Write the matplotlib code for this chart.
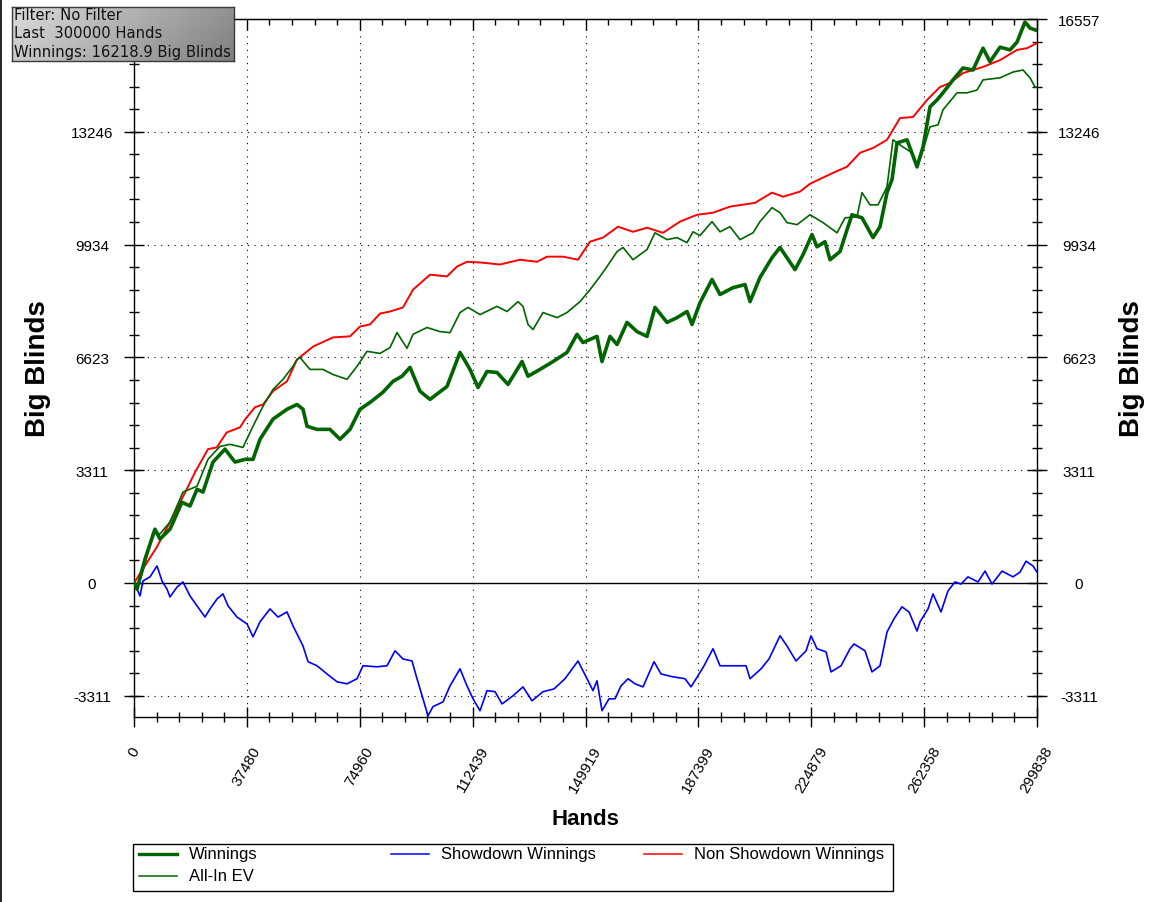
import numpy as np
import matplotlib
matplotlib.use('Agg')
import matplotlib.pyplot as plt
from matplotlib.lines import Line2D
from matplotlib.patches import Rectangle

# --- values (hands, big blinds) ---
win_hands = [0, 1000, 3650, 6970, 8630, 11950, 15940, 18600, 20920, 22910, 26230, 30220, 33540,
             36860, 39510, 41840, 46150, 50800, 54120, 56120, 57450, 60770, 65080, 68400, 71720,
             75050, 78360, 82680, 86000, 88990, 91650, 93310, 94970, 98290, 103930, 108250,
             111570, 114230, 117210, 120540, 124190, 128840, 130830, 134810, 139130, 143780,
             147100, 149090, 151410, 153740, 155400, 158060, 160390, 163700, 167030, 170350,
             173000, 176990, 180310, 183630, 185280, 187950, 191930, 194580, 198900, 202890,
             204550, 207870, 211850, 214510, 219490, 222150, 225130, 226790, 229450, 231110,
             234430, 236750, 238410, 241730, 245390, 247710, 250030, 251690, 253360, 256680,
             260000, 262000, 264310, 266640, 268620, 271950, 275270, 278590, 281910, 284230,
             287560, 290880, 293210, 295850, 297520, 299838]
win_bb = [0, -180, 700, 1580, 1290, 1580, 2370, 2260, 2750, 2670, 3550, 3930, 3550,
          3630, 3630, 4220, 4810, 5100, 5240, 5100, 4600, 4510, 4510, 4220, 4510,
          5100, 5300, 5600, 5920, 6070, 6330, 5980, 5630, 5390, 5770, 6770,
          6270, 5740, 6210, 6180, 5830, 6500, 6070, 6270, 6500, 6770,
          7300, 7060, 7150, 7240, 6500, 7240, 7000, 7650, 7380, 7240,
          8090, 7650, 7790, 7970, 7590, 8230, 8910, 8470, 8670, 8760,
          8260, 8970, 9550, 9850, 9200, 9640, 10230, 9870, 10020, 9490,
          9730, 10370, 10810, 10720, 10140, 10460, 11460, 11840, 12920, 13010,
          12220, 12800, 13980, 14180, 14390, 14770, 15120, 15060, 15700, 15300,
          15730, 15650, 15880, 16470, 16290, 16219]

ev_hands = [0, 1000, 3650, 6310, 8630, 11950, 16270, 20920, 24570, 28560, 31880, 36190,
            39510, 42840, 46150, 49480, 52800, 54120, 55120, 58440, 62760, 66080, 70730,
            74050, 77370, 81690, 85000, 87330, 90650, 92640, 97290, 101610, 104930, 108250,
            110910, 114890, 120540, 123860, 127510, 129170, 130830, 132490, 135810, 140460,
            143780, 148090, 151410, 154740, 157060, 160390, 162380, 165700, 170350, 173000,
            176990, 180310, 183630, 185620, 187950, 191930, 194580, 197900, 201220, 205540,
            207870, 211850, 214510, 216830, 220160, 224470, 228790, 233440, 236090, 240070,
            241730, 244390, 247050, 250030, 252030, 255350, 258330, 260000, 262000, 264310,
            266970, 268620, 273290, 276600, 279920, 281910, 287560, 291870, 295200, 297520,
            299190, 299838]
ev_bb = [0, -180, 560, 1490, 1440, 1790, 2670, 2840, 3630, 4010, 4070, 3980,
         4600, 5190, 5680, 5980, 6360, 6560, 6620, 6270, 6270, 6120, 5980,
         6360, 6800, 6740, 6910, 7350, 6890, 7300, 7500, 7380, 7350, 7940,
         8090, 7880, 8120, 7970, 8260, 8120, 7590, 7440, 7940, 7790,
         7940, 8260, 8610, 9000, 9290, 9730, 9850, 9490, 9790, 10280,
         10080, 10140, 9990, 10310, 10200, 10610, 10310, 10460, 10080, 10280,
         10610, 11020, 10870, 10580, 10520, 10810, 10580, 10280, 10720, 10750,
         11460, 11100, 11100, 11630, 13010, 12800, 12630, 12190, 12720, 13390,
         13450, 13890, 14390, 14390, 14470, 14770, 14830, 15000, 15060, 14830,
         14560, 14560]

sd_hands = [0, 1000, 1990, 2990, 5310, 7640, 9300, 10960, 11950, 14280, 16270, 18600,
            20920, 23580, 25240, 27560, 29550, 31210, 34200, 37520, 39510, 41840, 45160,
            47820, 50800, 52800, 56120, 57780, 60770, 64090, 67410, 70730, 74050, 76040,
            80690, 84010, 86670, 89320, 92310, 93970, 95960, 97620, 99280, 102600, 104930,
            108250, 110570, 112570, 114890, 117210, 119870, 122200, 125850, 129170, 132160,
            135810, 139460, 143120, 147430, 150420, 152410, 153740, 155400, 157720, 159720,
            161710, 164040, 166360, 169020, 172670, 174990, 178640, 182960, 184960, 187270,
            189280, 192260, 194580, 199560, 203220, 204550, 208200, 210850, 214510, 216830,
            219820, 223170, 224800, 226790, 229780, 231450, 234770, 237750, 239080, 242730,
            245050, 247710, 250030, 252360, 255000, 257340, 260000, 261000, 263650, 265310,
            267960, 270290, 272620, 274600, 276920, 280250, 282580, 284900, 288220, 291870,
            294200, 296190, 298510, 299838]
sd_bb = [0, -180, -380, 60, 180, 500, 60, -180, -410, -120, 30, -380,
         -670, -1000, -760, -470, -320, -670, -1000, -1200, -1580, -1140, -760,
         -1000, -850, -1260, -1850, -2310, -2430, -2670, -2900, -2960, -2810, -2430,
         -2460, -2430, -1990, -2230, -2290, -2810, -3400, -3900, -3630, -3490, -3020,
         -2520, -3020, -3400, -3750, -3160, -3190, -3550, -3310, -3050, -3460,
         -3190, -3110, -2810, -2290, -2810, -3160, -2870, -3750, -3400, -3400,
         -3020, -2810, -2960, -3050, -2310, -2670, -2750, -2810, -3050, -2720,
         -2430, -1930, -2430, -2430, -2430, -2810, -2520, -2230, -1550, -1850,
         -2290, -1990, -1550, -1930, -2020, -2610, -2430, -1930, -1790, -1990,
         -2610, -2430, -1440, -1050, -700, -850, -1410, -1140, -760, -320,
         -850, -230, 30, -30, 180, 30, 350, -30, 350, 180,
         320, 640, 500, 320]

nsd_hands = [0, 7540, 11950, 17500, 20260, 24570, 27460, 30780, 35200, 36860, 40180, 42840,
             46150, 50800, 54120, 59440, 66080, 71720, 75050, 78360, 81690, 85000, 89320,
             92640, 98290, 103930, 107250, 110570, 114890, 121530, 128170, 133820, 137140,
             142450, 147430, 151410, 155730, 160710, 165700, 170350, 175660, 181300, 186950,
             192260, 197900, 206200, 211850, 215510, 221150, 224470, 232100, 236750, 241070,
             245390, 250030, 254350, 258670, 263320, 267620, 270950, 275270, 281910, 287560,
             293210, 296520, 299838]
nsd_bb = [0, 1050, 1790, 2750, 3250, 3930, 3980, 4420, 4570, 4800, 5160, 5240,
          5630, 5920, 6560, 6940, 7210, 7240, 7530, 7590, 7910, 7970, 8090,
          8610, 9050, 9000, 9290, 9430, 9410, 9350, 9490, 9430, 9580,
          9580, 9490, 10020, 10140, 10460, 10310, 10430, 10280, 10610, 10810,
          10870, 11050, 11160, 11460, 11340, 11490, 11720, 12040, 12220, 12630,
          12770, 13010, 13650, 13680, 14180, 14560, 14680, 14970, 15150, 15350,
          15650, 15700, 15850]

x_ticks = [0, 37480, 74960, 112439, 149919, 187399, 224879, 262358, 299838]
y_ticks = [-3311, 0, 3311, 6623, 9934, 13246, 16557]

W, H = 1156, 903


def fx(px):
    return px / W


def fy(py):
    return 1 - py / H


plt.rcParams['font.family'] = ['Liberation Sans', 'DejaVu Sans']

fig = plt.figure(figsize=(W / 100, H / 100), dpi=100)
ax = fig.add_axes([fx(134), fy(718), fx(1037) - fx(134), fy(20) - fy(718)])

grid_style = dict(color='black', lw=0.8, linestyle=(0, (1, 5)), zorder=0)
for xv in x_ticks[1:-1]:
    ax.axvline(xv, **grid_style)
for yv in y_ticks:
    if yv != 0:
        ax.axhline(yv, **grid_style)
ax.axhline(0, color='black', lw=1.0, zorder=1)

ax.plot(nsd_hands, nsd_bb, color='#ff0000', lw=1.4, zorder=3)
ax.plot(sd_hands, sd_bb, color='#0000ff', lw=1.2, zorder=3)
ax.plot(ev_hands, ev_bb, color='#006400', lw=1.2, zorder=4)
ax.plot(win_hands, win_bb, color='#006400', lw=2.6, zorder=5)

ax.set_xlim(0, 299838)
ax.set_ylim(-3934, 16557)

ax.set_xticks(x_ticks)
ax.set_xticklabels([str(v) for v in x_ticks], rotation=60, fontsize=11)
ax.set_xticks(np.arange(0, 299839, 299838 / 40), minor=True)
ax.set_yticks(y_ticks)
ax.set_yticklabels([str(v) for v in y_ticks], fontsize=11)
ax.set_yticks(np.arange(-3311.4, 16558, 662.28), minor=True)

ax.tick_params(axis='both', which='major', direction='inout', length=14.4, width=1)
ax.tick_params(axis='both', which='minor', direction='inout', length=7.2, width=1)
ax.tick_params(axis='y', which='both', left=True, right=True, labelleft=True,
               labelright=True, pad=23)
ax.tick_params(axis='x', which='major', pad=12)
for t in ax.yaxis.get_major_ticks():
    t.label1.set_horizontalalignment('center')
    t.label2.set_horizontalalignment('center')
# the left 16557 label sits under the info box in the reference
ax.yaxis.get_major_ticks()[-1].label1.set_visible(False)

top = ax.secondary_xaxis('top')
top.set_xticks(x_ticks)
top.set_xticks(np.arange(0, 299839, 299838 / 40), minor=True)
top.tick_params(which='major', direction='in', length=8, width=1, labeltop=False)
top.tick_params(which='minor', direction='in', length=4.3, width=1)

for s in ax.spines.values():
    s.set_linewidth(1.0)

fig.text(fx(38), fy(369), 'Big Blinds', rotation=90, fontsize=20, fontweight='bold',
         ha='center', va='center')
fig.text(fx(1132), fy(369), 'Big Blinds', rotation=90, fontsize=20, fontweight='bold',
         ha='center', va='center')
fig.text(fx(585), fy(820), 'Hands', fontsize=16, fontweight='bold', ha='center', va='center')

# info box
box = fig.add_axes([fx(12), fy(62), fx(234) - fx(12), fy(8) - fy(62)], zorder=10)
gx, gy = np.meshgrid(np.linspace(0, 1, 200), np.linspace(0, 1, 50))
grad = 0.86 - 0.36 * (0.8 * gx + 0.2 * gy)
box.imshow(grad, cmap='gray', vmin=0, vmax=1, aspect='auto', extent=(0, 1, 1, 0))
box.set_xticks([])
box.set_yticks([])
for s in box.spines.values():
    s.set_color('#3a3a3a')
    s.set_linewidth(1.0)
info_lines = ['Filter: No Filter', 'Last  300000 Hands', 'Winnings: 16218.9 Big Blinds']
for i, line in enumerate(info_lines):
    fig.text(fx(14), fy(16 + 18 * i), line, fontsize=10.6, family='DejaVu Sans',
             ha='left', va='center', zorder=11, color='#111111')

# legend
fig.add_artist(Rectangle((fx(133), fy(892)), fx(893) - fx(133), fy(845) - fy(892),
                         transform=fig.transFigure, fill=False, edgecolor='black', lw=1.0))
legend_items = [
    (139, 855, '#006400', 2.4, 'Winnings'),
    (139, 877, '#006400', 1.1, 'All-In EV'),
    (391, 855, '#0000ff', 1.1, 'Showdown Winnings'),
    (644, 855, '#ff0000', 1.1, 'Non Showdown Winnings'),
]
for x0, y0, c, lw, label in legend_items:
    fig.add_artist(Line2D([fx(x0), fx(x0 + 38)], [fy(y0), fy(y0)], color=c, lw=lw,
                          transform=fig.transFigure))
    fig.text(fx(x0 + 50), fy(y0), label, fontsize=12, ha='left', va='center')

fig.add_artist(Line2D([fx(1), fx(1)], [0, 1], color='black', lw=1.2,
                      transform=fig.transFigure))

fig.savefig('out.png', dpi=100)
